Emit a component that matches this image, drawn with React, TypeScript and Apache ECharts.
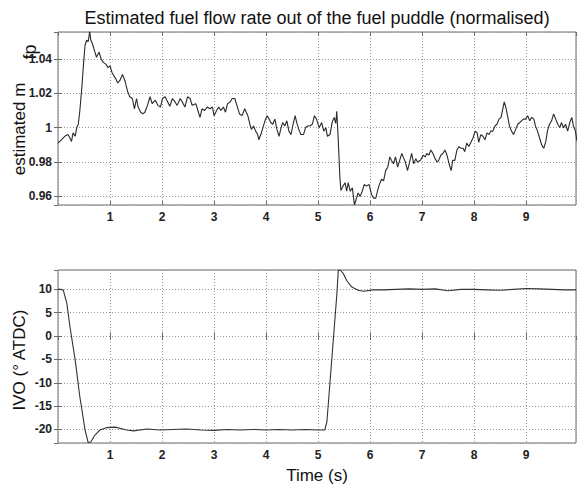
import React, { useEffect, useRef } from "react";
import * as echarts from "echarts";

const FONT = "'Liberation Sans', Arial, Helvetica, sans-serif";
const TITLE = "Estimated fuel flow rate out of the fuel puddle (normalised)";
const X_LABEL = "Time (s)";
const Y1_LABEL = "estimated m";
const Y1_SUB = "fp";
const Y2_LABEL = "IVO (° ATDC)";

const timeRange = [0, 9.96];
const timeStep = 1;
const fuelRange = [0.955, 1.0557];
const fuelStep = 0.02;
const ivoRange = [-22.9, 14.15];
const ivoStep = 5;

const fuelTime = [
  0.0, 0.07, 0.13, 0.19, 0.23, 0.26, 0.29, 0.33, 0.36, 0.39,
  0.42, 0.46, 0.49, 0.52, 0.55, 0.58, 0.61, 0.63, 0.66, 0.7,
  0.74, 0.79, 0.83, 0.87, 0.92, 0.96, 1.0, 1.04, 1.1, 1.15,
  1.19, 1.24, 1.29, 1.34, 1.38, 1.43, 1.47, 1.51, 1.54, 1.59,
  1.63, 1.67, 1.72, 1.77, 1.81, 1.87, 1.92, 1.97, 2.01, 2.06,
  2.11, 2.15, 2.2, 2.25, 2.29, 2.35, 2.39, 2.44, 2.49, 2.54,
  2.58, 2.65, 2.7, 2.73, 2.77, 2.82, 2.87, 2.92, 2.97, 3.0,
  3.05, 3.09, 3.13, 3.18, 3.22, 3.26, 3.31, 3.35, 3.4, 3.45,
  3.49, 3.54, 3.59, 3.65, 3.69, 3.72, 3.76, 3.8, 3.84, 3.86,
  3.9, 3.94, 3.98, 4.02, 4.06, 4.09, 4.13, 4.17, 4.21, 4.25,
  4.29, 4.32, 4.36, 4.4, 4.44, 4.48, 4.52, 4.56, 4.59, 4.63,
  4.67, 4.72, 4.76, 4.8, 4.84, 4.89, 4.93, 4.97, 5.02, 5.07,
  5.11, 5.15, 5.18, 5.23, 5.27, 5.31, 5.34, 5.36, 5.39, 5.42,
  5.44, 5.48, 5.52, 5.55, 5.58, 5.62, 5.66, 5.7, 5.73, 5.77,
  5.81, 5.85, 5.89, 5.93, 5.98, 6.03, 6.07, 6.11, 6.15, 6.18,
  6.22, 6.26, 6.3, 6.34, 6.38, 6.41, 6.45, 6.49, 6.53, 6.57,
  6.61, 6.65, 6.68, 6.72, 6.76, 6.8, 6.84, 6.88, 6.91, 6.97,
  7.02, 7.06, 7.09, 7.13, 7.17, 7.21, 7.25, 7.29, 7.32, 7.36,
  7.4, 7.44, 7.48, 7.52, 7.56, 7.59, 7.63, 7.67, 7.71, 7.75,
  7.79, 7.82, 7.86, 7.9, 7.94, 7.98, 8.02, 8.06, 8.09, 8.13,
  8.17, 8.21, 8.25, 8.29, 8.32, 8.36, 8.4, 8.44, 8.48, 8.52,
  8.54, 8.58, 8.61, 8.65, 8.68, 8.72, 8.76, 8.8, 8.84, 8.88,
  8.91, 8.95, 8.99, 9.03, 9.07, 9.11, 9.15, 9.18, 9.22, 9.26,
  9.3, 9.34, 9.38, 9.41, 9.45, 9.49, 9.53, 9.57, 9.61, 9.65,
  9.68, 9.72, 9.76, 9.8, 9.84, 9.88, 9.91, 9.95, 9.98,
];

const fuelValue = [
  0.991, 0.993, 0.995, 0.996, 0.994, 0.992, 0.997, 0.995, 1.0, 1.002,
  1.01, 1.024, 1.037, 1.048, 1.051, 1.05, 1.056, 1.051, 1.049, 1.045,
  1.041, 1.044, 1.04, 1.038, 1.037, 1.035, 1.036, 1.032, 1.029, 1.026,
  1.0275, 1.031, 1.027, 1.021, 1.018, 1.017, 1.011, 1.017, 1.012, 1.009,
  1.008, 1.009, 1.013, 1.018, 1.014, 1.016, 1.013, 1.012, 1.017, 1.018,
  1.015, 1.0125, 1.017, 1.015, 1.013, 1.017, 1.015, 1.012, 1.018, 1.017,
  1.013, 1.014, 1.009, 1.006, 1.011, 1.01, 1.012, 1.011, 1.012, 1.007,
  1.01, 1.012, 1.01, 1.012, 1.009, 1.014, 1.015, 1.017, 1.017, 1.012,
  1.008, 1.007, 1.011, 1.007, 1.002, 0.999, 1.001, 0.998, 0.996, 0.993,
  0.996, 1.0, 1.004, 1.007, 1.005, 1.003, 1.002, 1.005, 0.999, 0.995,
  1.0, 1.003, 1.001, 1.004, 0.998, 0.996, 1.002, 1.007, 1.003, 0.999,
  0.996, 0.996, 1.0, 1.001, 1.001, 1.002, 1.007, 1.005, 1.0, 1.003,
  0.998, 1.0, 0.995, 0.996, 1.003, 1.006, 1.0025, 1.0095, 0.992, 0.971,
  0.9635, 0.966, 0.968, 0.963, 0.968, 0.963, 0.965, 0.955, 0.958, 0.962,
  0.96, 0.963, 0.967, 0.966, 0.967, 0.961, 0.959, 0.959, 0.964, 0.967,
  0.97, 0.969, 0.975, 0.977, 0.983, 0.981, 0.979, 0.983, 0.977, 0.981,
  0.985, 0.982, 0.98, 0.975, 0.98, 0.985, 0.979, 0.982, 0.98, 0.981,
  0.984, 0.983, 0.985, 0.984, 0.987, 0.985, 0.982, 0.98, 0.981, 0.984,
  0.985, 0.987, 0.984, 0.979, 0.975, 0.981, 0.981, 0.987, 0.989, 0.988,
  0.988, 0.986, 0.991, 0.989, 0.9915, 0.994, 0.998, 0.997, 0.9915, 0.996,
  0.995, 0.993, 0.997, 0.996, 0.998, 0.998, 1.001, 1.002, 1.005, 1.006,
  1.009, 1.015, 1.012, 1.006, 1.001, 0.998, 0.996, 0.999, 1.002, 1.003,
  1.004, 1.005, 1.005, 1.007, 1.004, 1.006, 1.005, 1.001, 0.998, 0.994,
  0.99, 0.988, 0.992, 0.998, 1.002, 1.004, 1.008, 1.005, 1.002, 1.0,
  1.003, 1.0, 1.002, 0.998, 1.003, 1.006, 1.001, 0.998, 0.992,
];

const ivoTime = [
  0, 0.05, 0.1, 0.17, 0.23, 0.33, 0.42, 0.52, 0.58, 0.63,
  0.71, 0.81, 0.94, 1.1, 1.32, 1.45, 1.71, 1.96, 2.2, 2.47,
  2.75, 3.0, 3.25, 3.5, 3.75, 4.0, 4.25, 4.5, 4.75, 5.0,
  5.13, 5.17, 5.26, 5.36, 5.39, 5.43, 5.49, 5.55, 5.65, 5.77,
  5.87, 6.06, 6.25, 6.5, 6.75, 7.0, 7.25, 7.5, 7.75, 8.0,
  8.25, 8.5, 8.75, 9.0, 9.25, 9.5, 9.75, 9.96,
];

const ivoValue = [
  10, 10, 9.9, 7.0, 2.0, -5.1, -13, -20.1, -22.8, -22.7,
  -21.2, -20.1, -19.6, -19.5, -20.1, -20.3, -19.9, -20.1, -20.0, -19.9,
  -20.1, -20.2, -20.0, -20.1, -20.0, -20.1, -20.0, -20.1, -20.0, -20.1,
  -20.1, -18.4, -5.6, 8.7, 14.1, 14.1, 13.3, 11.9, 10.5, 9.8,
  9.6, 9.9, 9.9, 10.0, 10.1, 10.0, 10.1, 9.7, 10.0, 10.0,
  9.9, 9.8, 10.0, 10.2, 10.1, 10.0, 9.9, 9.9,
];

const BORDER = "#6a6a6a";
const GRIDLINE = "#999";

function tickStyle() {
  return { show: true, inside: true, length: 4, lineStyle: { color: BORDER, width: 1 } };
}

function labelStyle(show: boolean) {
  return {
    show,
    showMinLabel: false,
    showMaxLabel: false,
    margin: 6,
    fontSize: 12,
    fontWeight: "bold" as const,
    color: "#222",
    fontFamily: FONT,
  };
}

function xAxes(gridIndex: number) {
  const base = {
    gridIndex,
    type: "value" as const,
    min: timeRange[0],
    max: timeRange[1],
    interval: timeStep,
    axisLine: { show: false },
    axisTick: tickStyle(),
  };
  return [
    {
      ...base,
      position: "bottom" as const,
      axisLabel: labelStyle(true),
      splitLine: { show: true, lineStyle: { color: GRIDLINE, width: 1, type: [1, 2] } },
    },
    {
      ...base,
      position: "top" as const,
      axisLabel: { show: false },
      splitLine: { show: false },
    },
  ];
}

function yAxes(gridIndex: number, range: number[], step: number) {
  const base = {
    gridIndex,
    type: "value" as const,
    min: range[0],
    max: range[1],
    minInterval: step,
    maxInterval: step,
    splitNumber: 5,
    axisLine: { show: false },
    axisTick: tickStyle(),
  };
  return [
    {
      ...base,
      position: "left" as const,
      axisLabel: labelStyle(true),
      splitLine: { show: true, lineStyle: { color: GRIDLINE, width: 1, type: [1, 2] } },
    },
    {
      ...base,
      position: "right" as const,
      axisLabel: { show: false },
      splitLine: { show: false },
    },
  ];
}

function zip(a: number[], b: number[]) {
  return a.map((t, i) => [t, b[i]]);
}

export default function App() {
  const ref = useRef<HTMLDivElement>(null);
  useEffect(() => {
    if (!ref.current) return;
    const chart = echarts.init(ref.current, undefined, { renderer: "svg" });
    const textBase = { fontFamily: FONT, fill: "#111" };
    chart.setOption({
      animation: false,
      backgroundColor: "#fff",
      grid: [
        { left: 58, top: 32, width: 518, height: 173, show: true, borderColor: BORDER, borderWidth: 1, backgroundColor: "transparent" },
        { left: 58, top: 270, width: 518, height: 173, show: true, borderColor: BORDER, borderWidth: 1, backgroundColor: "transparent" },
      ],
      xAxis: [...xAxes(0), ...xAxes(1)],
      yAxis: [...yAxes(0, fuelRange, fuelStep), ...yAxes(1, ivoRange, ivoStep)],
      series: [
        {
          type: "line",
          xAxisIndex: 0,
          yAxisIndex: 0,
          data: zip(fuelTime, fuelValue),
          showSymbol: false,
          symbol: "none",
          lineStyle: { color: "#2a2a2a", width: 1.1 },
          z: 5,
        },
        {
          type: "line",
          xAxisIndex: 2,
          yAxisIndex: 2,
          data: zip(ivoTime, ivoValue),
          showSymbol: false,
          symbol: "none",
          lineStyle: { color: "#333", width: 1.1 },
          z: 5,
        },
      ],
      graphic: [
        {
          type: "text",
          x: 317,
          y: 17.5,
          style: { ...textBase, text: TITLE, fontSize: 18, align: "center", verticalAlign: "middle" },
        },
        {
          type: "text",
          x: 19,
          y: 129,
          rotation: Math.PI / 2,
          style: { ...textBase, text: Y1_LABEL, fontSize: 17, align: "center", verticalAlign: "middle" },
        },
        {
          type: "text",
          x: 30,
          y: 52,
          rotation: Math.PI / 2,
          style: { ...textBase, text: Y1_SUB, fontSize: 18, align: "center", verticalAlign: "middle" },
        },
        {
          type: "text",
          x: 19,
          y: 360,
          rotation: Math.PI / 2,
          style: { ...textBase, text: Y2_LABEL, fontSize: 17, align: "center", verticalAlign: "middle" },
        },
        {
          type: "text",
          x: 317,
          y: 475,
          style: { ...textBase, text: X_LABEL, fontSize: 17, align: "center", verticalAlign: "middle" },
        },
      ],
    });
    return () => chart.dispose();
  }, []);
  return (
    <div
      ref={ref}
      style={{ position: "absolute", left: 0, top: 0, width: 577, height: 486 }}
    />
  );
}
